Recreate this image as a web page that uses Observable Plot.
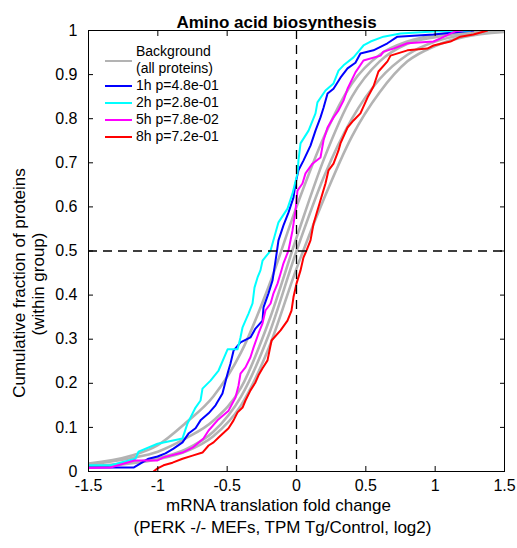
<!DOCTYPE html>
<html>
<head>
<meta charset="utf-8">
<script src="https://cdn.jsdelivr.net/npm/d3@7"></script>
<script src="https://cdn.jsdelivr.net/npm/@observablehq/plot@0.6"></script>
<style>
  body { margin: 0; background: #fff; }
  #wrap { position: relative; width: 517px; height: 548px; font-family: "Liberation Sans", Arial, sans-serif; }
  .leg { position: absolute; font-size: 14px; line-height: 17px; color: #000; white-space: nowrap; }
  .sw { position: absolute; height: 0; width: 27px; }
</style>
</head>
<body>
<div id="wrap"></div>
<script>
const titleText = "Amino acid biosynthesis";
const xLabel1 = "mRNA translation fold change";
const xLabel2 = "(PERK -/- MEFs, TPM Tg/Control, log2)";
const yLabel1 = "Cumulative fraction of proteins";
const yLabel2 = "(within group)";

const xTicks = [-1.5, -1, -0.5, 0, 0.5, 1, 1.5];
const yTicks = [0, 0.1, 0.2, 0.3, 0.4, 0.5, 0.6, 0.7, 0.8, 0.9, 1];

const legendLabels = ["1h p=4.8e-01", "2h p=2.8e-01", "5h p=7.8e-02", "8h p=7.2e-01"];

// Background (all proteins) cumulative curves, one per time point
const bgX  = [-1.5, -1.2, -1.0, -0.8, -0.6, -0.4, -0.2, 0, 0.2, 0.4, 0.6, 0.8, 1.0, 1.2, 1.5];
const bg1Y = [0.018, 0.035, 0.06, 0.11, 0.17, 0.27, 0.42, 0.6, 0.76, 0.88, 0.945, 0.975, 0.99, 0.996, 1.0];
const bg2Y = [0.015, 0.03, 0.045, 0.075, 0.115, 0.19, 0.34, 0.53, 0.71, 0.85, 0.93, 0.97, 0.985, 0.994, 1.0];
const bg5Y = [0.012, 0.02, 0.03, 0.05, 0.09, 0.17, 0.31, 0.5, 0.67, 0.8, 0.89, 0.945, 0.975, 0.99, 0.998];
const bg8Y = [0.01, 0.018, 0.028, 0.045, 0.08, 0.15, 0.28, 0.46, 0.62, 0.76, 0.86, 0.93, 0.965, 0.985, 0.997];

// Amino acid biosynthesis group, cumulative curves (vertices)
const h1X = [-1.63, -1.175, -1.067, -1.002, -0.945, -0.887, -0.822, -0.779, -0.728, -0.692, -0.634, -0.584, -0.534, -0.497, -0.476, -0.454, -0.404, -0.332, -0.296, -0.245, -0.238, -0.202, -0.173, -0.151, -0.130, -0.094, -0.058, -0.022, -0.007, 0.014, 0.050, 0.101, 0.137, 0.173, 0.195, 0.224, 0.267, 0.317, 0.368, 0.425, 0.461, 0.555, 0.656, 0.728, 0.988, 1.276];
const h1Y = [0.009, 0.009, 0.029, 0.034, 0.041, 0.052, 0.066, 0.086, 0.098, 0.116, 0.132, 0.150, 0.177, 0.222, 0.245, 0.274, 0.293, 0.304, 0.324, 0.342, 0.372, 0.404, 0.433, 0.478, 0.524, 0.558, 0.587, 0.621, 0.653, 0.683, 0.705, 0.739, 0.773, 0.803, 0.825, 0.857, 0.868, 0.893, 0.914, 0.927, 0.948, 0.955, 0.971, 0.986, 0.991, 1.0];

const h2X = [-1.63, -1.341, -1.161, -1.139, -1.002, -0.822, -0.786, -0.728, -0.692, -0.678, -0.620, -0.562, -0.497, -0.425, -0.404, -0.389, -0.368, -0.346, -0.317, -0.303, -0.281, -0.260, -0.245, -0.187, -0.130, -0.065, -0.029, 0.007, 0.014, 0.029, 0.087, 0.137, 0.151, 0.209, 0.267, 0.303, 0.339, 0.411, 0.440, 0.483, 0.534, 0.627, 0.750, 0.988, 1.254];
const h2Y = [0.014, 0.014, 0.029, 0.045, 0.063, 0.075, 0.109, 0.145, 0.161, 0.188, 0.206, 0.229, 0.277, 0.277, 0.304, 0.327, 0.342, 0.358, 0.381, 0.417, 0.440, 0.456, 0.478, 0.501, 0.565, 0.596, 0.630, 0.676, 0.705, 0.744, 0.773, 0.812, 0.837, 0.864, 0.880, 0.909, 0.921, 0.939, 0.950, 0.966, 0.975, 0.986, 0.993, 0.998, 1.0];

const h5X = [-1.63, -1.341, -1.168, -1.002, -0.959, -0.822, -0.750, -0.671, -0.634, -0.570, -0.490, -0.440, -0.418, -0.404, -0.368, -0.332, -0.310, -0.274, -0.245, -0.224, -0.187, -0.166, -0.137, -0.115, -0.094, -0.058, -0.029, -0.007, 0.007, 0.043, 0.065, 0.115, 0.173, 0.195, 0.224, 0.267, 0.303, 0.339, 0.368, 0.425, 0.483, 0.606, 0.627, 0.699, 0.800, 0.988, 1.038, 1.110, 1.146, 1.197];
const h5Y = [0.007, 0.009, 0.025, 0.025, 0.032, 0.043, 0.054, 0.075, 0.093, 0.116, 0.138, 0.168, 0.195, 0.222, 0.236, 0.259, 0.281, 0.313, 0.336, 0.365, 0.381, 0.404, 0.426, 0.449, 0.472, 0.501, 0.546, 0.592, 0.637, 0.653, 0.676, 0.698, 0.712, 0.751, 0.780, 0.803, 0.819, 0.841, 0.868, 0.905, 0.932, 0.943, 0.952, 0.959, 0.971, 0.975, 0.982, 0.993, 0.998, 1.0];

const h8X = [-1.031, -1.002, -0.959, -0.894, -0.822, -0.750, -0.678, -0.634, -0.598, -0.562, -0.490, -0.454, -0.425, -0.389, -0.368, -0.332, -0.296, -0.274, -0.245, -0.209, -0.180, -0.115, -0.065, -0.036, -0.022, 0.000, 0.029, 0.050, 0.072, 0.101, 0.123, 0.151, 0.173, 0.209, 0.231, 0.267, 0.303, 0.317, 0.368, 0.411, 0.461, 0.512, 0.555, 0.591, 0.656, 0.678, 0.800, 0.944, 0.988, 1.110, 1.182, 1.276, 1.377];
const h8Y = [0.000, 0.007, 0.014, 0.020, 0.029, 0.036, 0.043, 0.059, 0.066, 0.077, 0.098, 0.116, 0.134, 0.145, 0.161, 0.184, 0.202, 0.218, 0.234, 0.252, 0.297, 0.320, 0.342, 0.365, 0.395, 0.426, 0.456, 0.485, 0.501, 0.524, 0.562, 0.592, 0.615, 0.653, 0.683, 0.698, 0.728, 0.744, 0.780, 0.796, 0.812, 0.848, 0.873, 0.907, 0.930, 0.943, 0.955, 0.959, 0.966, 0.975, 0.986, 0.991, 1.0];

const bgSeries = [bg1Y, bg2Y, bg5Y, bg8Y];
const groupSeries = [
  {xs: h1X, ys: h1Y, color: "#0000ff"},
  {xs: h2X, ys: h2Y, color: "#00ffff"},
  {xs: h5X, ys: h5Y, color: "#ff00ff"},
  {xs: h8X, ys: h8Y, color: "#ff0000"}
];
const bgColor = "#b3b3b3";

const fmt = d => String(+d.toFixed(2));

const marks = [];
bgSeries.forEach(ys => {
  const rows = bgX.map((x, i) => ({x, y: ys[i]}));
  marks.push(Plot.line(rows, {x: "x", y: "y", stroke: bgColor, strokeWidth: 2.6, curve: "monotone-x", clip: true}));
});
groupSeries.forEach(s => {
  const rows = s.xs.map((x, i) => ({x, y: s.ys[i]}));
  marks.push(Plot.line(rows, {x: "x", y: "y", stroke: s.color, strokeWidth: 2, curve: "linear", clip: true}));
});
marks.push(Plot.ruleX([0], {stroke: "#000", strokeWidth: 1.3, strokeDasharray: "9,6"}));
marks.push(Plot.ruleY([0.5], {stroke: "#000", strokeWidth: 1.3, strokeDasharray: "9,6"}));
marks.push(Plot.frame({stroke: "#000", strokeWidth: 1}));
marks.push(Plot.axisX(xTicks, {anchor: "bottom", tickSize: -5, tickPadding: 13, tickFormat: fmt, label: null, fontSize: 16}));
marks.push(Plot.axisX(xTicks, {anchor: "top", tickSize: -5, tickFormat: () => "", label: null}));
marks.push(Plot.axisY(yTicks, {anchor: "left", tickSize: -5, tickPadding: 16, tickFormat: fmt, label: null, fontSize: 16}));
marks.push(Plot.axisY(yTicks, {anchor: "right", tickSize: -5, tickFormat: () => "", label: null}));
marks.push(Plot.text([titleText], {frameAnchor: "top", dy: -15, dx: -20, fontWeight: "bold", fontSize: 17}));
marks.push(Plot.text([xLabel1], {frameAnchor: "bottom", dy: 39, dx: -18, fontSize: 17}));
marks.push(Plot.text([xLabel2], {frameAnchor: "bottom", dy: 61, dx: -14, fontSize: 17}));
marks.push(Plot.text([yLabel1], {frameAnchor: "left", textAnchor: "middle", rotate: -90, dx: -69, dy: 32, fontSize: 17}));
marks.push(Plot.text([yLabel2], {frameAnchor: "left", textAnchor: "middle", rotate: -90, dx: -50, dy: 33, fontSize: 17}));

const chart = Plot.plot({
  width: 517,
  height: 548,
  marginLeft: 88,
  marginRight: 13,
  marginTop: 30,
  marginBottom: 77,
  x: {domain: [-1.5, 1.5]},
  y: {domain: [0, 1]},
  style: {fontFamily: "'Liberation Sans', Arial, sans-serif", fontSize: "16px", background: "#fff", color: "#000"},
  marks
});
const wrap = document.getElementById("wrap");
wrap.appendChild(chart);

// Legend (inside the top-left of the plot)
const legLeft = 105, legTop = 43, rowH = 17;
function addRow(text, top, color, swTop) {
  const t = document.createElement("div");
  t.className = "leg";
  t.style.left = (legLeft + 31) + "px";
  t.style.top = top + "px";
  t.textContent = text;
  wrap.appendChild(t);
  if (color) {
    const sw = document.createElement("div");
    sw.className = "sw";
    sw.style.left = legLeft + "px";
    sw.style.top = swTop + "px";
    sw.style.borderTop = (color === bgColor ? "2.6px" : "2px") + " solid " + color;
    wrap.appendChild(sw);
  }
}
addRow("Background", legTop, null);
addRow("(all proteins)", legTop + rowH, bgColor, legTop + 17);
legendLabels.forEach((lab, i) => {
  const top = legTop + rowH * (i + 2);
  addRow(lab, top, groupSeries[i].color, top + 8);
});
</script>
</body>
</html>
